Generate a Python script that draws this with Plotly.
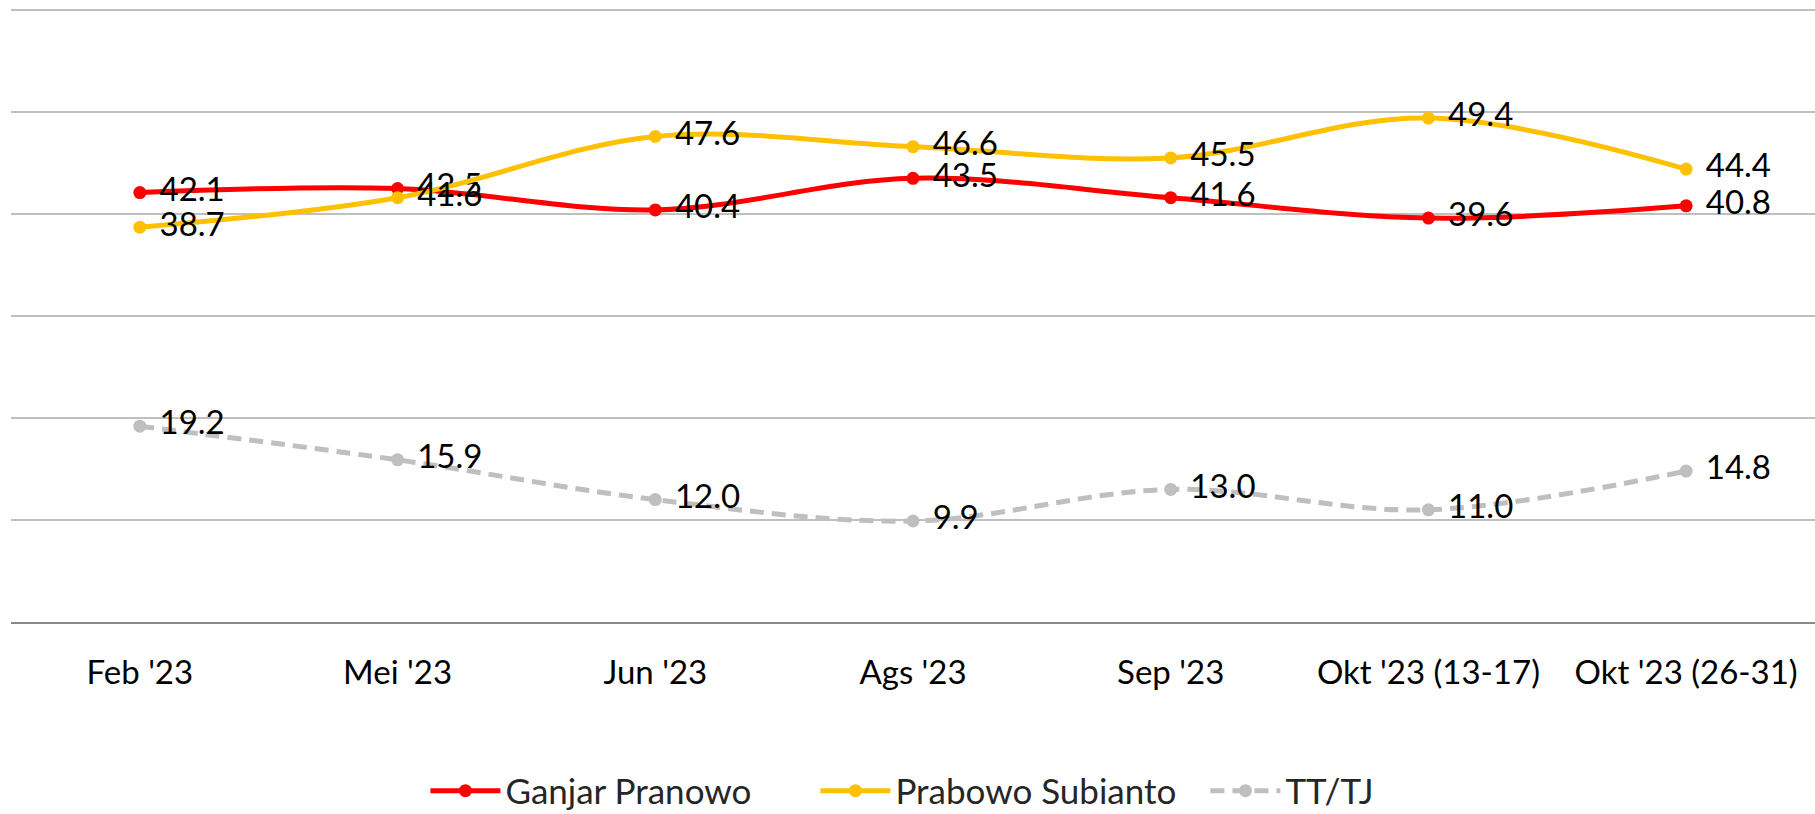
import plotly.graph_objects as go

# Kategorien und Werte
periods = ["Feb '23", "Mei '23", "Jun '23", "Ags '23", "Sep '23",
           "Okt '23 (13-17)", "Okt '23 (26-31)"]
ganjar = [42.1, 42.5, 40.4, 43.5, 41.6, 39.6, 40.8]
prabowo = [38.7, 41.6, 47.6, 46.6, 45.5, 49.4, 44.4]
tt_tj = [19.2, 15.9, 12.0, 9.9, 13.0, 11.0, 14.8]

FONT = "Lato, 'Open Sans', sans-serif"

SERIES = [
    ("Ganjar Pranowo", ganjar, "#FF0000", "solid"),
    ("Prabowo Subianto", prabowo, "#FFC000", "solid"),
    ("TT/TJ", tt_tj, "#BFBFBF", "14px,8px"),
]

fig = go.Figure()
for name, vals, color, dash in SERIES:
    fig.add_trace(go.Scatter(
        x=periods,
        y=vals,
        name=name,
        mode="lines+markers+text",
        line=dict(color=color, width=5, shape="spline", smoothing=1, dash=dash),
        marker=dict(color=color, size=13),
        text=[f" \u200a{v:.1f}" for v in vals],
        textposition="middle right",
        textfont=dict(family=FONT, size=33, color="#000000"),
        cliponaxis=False,
    ))

fig.update_layout(
    width=1815,
    height=814,
    margin=dict(l=11, r=0, t=0, b=192, autoexpand=False),
    paper_bgcolor="white",
    plot_bgcolor="white",
    font=dict(family=FONT, size=33, color="#000000"),
    showlegend=True,
    legend=dict(
        orientation="h",
        x=0.554,
        xanchor="center",
        y=-0.319,
        yanchor="bottom",
        font=dict(family=FONT, size=35, color="#262626"),
        itemwidth=70,
        entrywidth=305,
        traceorder="normal",
    ),
)
fig.update_xaxes(
    type="category",
    range=[-0.5, 6.5],
    automargin=False,
    showgrid=False,
    showline=True,
    linecolor="#898989",
    linewidth=2,
    ticks="",
    ticklabelstandoff=20,
    tickfont=dict(family=FONT, size=33, color="#000000"),
)
# oberer Rand leicht ueber 60, damit die oberste Gitterlinie sichtbar bleibt
fig.update_yaxes(
    range=[0, 60.98],
    tickvals=[0, 10, 20, 30, 40, 50, 60],
    showgrid=True,
    gridcolor="#BFBFBF",
    gridwidth=1.5,
    showticklabels=False,
    zeroline=False,
    showline=False,
    automargin=False,
)

# Seitenrand entfernen, damit die Grafik bei (0,0) beginnt
fig.write_html(
    "out.html",
    config={"displayModeBar": False},
    post_script="document.body.style.margin='0';",
)
